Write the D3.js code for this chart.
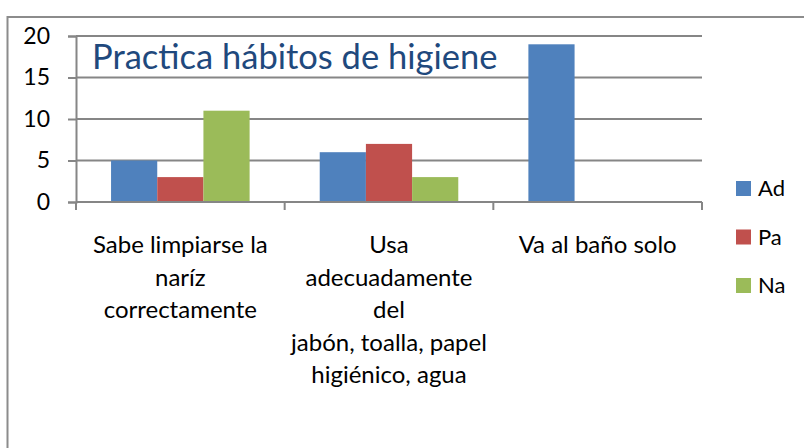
<!DOCTYPE html>
<html>
<head>
<meta charset="utf-8">
<script src="https://cdn.jsdelivr.net/npm/d3@7"></script>
<style>
  body { margin: 0; background: #ffffff; }
  svg { display: block; font-family: "Lato", "Liberation Sans", sans-serif; }
</style>
</head>
<body>
<div id="chart"></div>
<script>
// data
const categories = ["Sabe limpiarse la naríz correctamente", "Usa adecuadamente del jabón, toalla, papel higiénico, agua", "Va al baño solo"];
const categoryLines = [
    ["Sabe limpiarse la", "naríz", "correctamente"],
    ["Usa", "adecuadamente", "del", "jabón, toalla, papel", "higiénico, agua"],
    ["Va al baño solo"]
];
const seriesNames = ["Ad", "Pa", "Na"];
const adValues = [5, 6, 19];
const paValues = [3, 7, 0];
const naValues = [11, 3, 0];
const yTicks = [0, 5, 10, 15, 20];
const titleText = "Practica hábitos de higiene";

const seriesValues = [adValues, paValues, naValues];
const colors = ["#4f81bd", "#c0504d", "#9bbb59"];

// layout
const width = 804, height = 448;
const plot = { left: 76, right: 702, top: 36, bottom: 202 };
const gridColor = "#868686";

const svg = d3.select("#chart").append("svg")
    .attr("width", width)
    .attr("height", height);

// outer frame (clipped by window at right / bottom)
svg.append("path")
    .attr("d", `M7.5,${height + 2}V17H${width + 2}`)
    .attr("fill", "none")
    .attr("stroke", "#8c8c8c")
    .attr("stroke-width", 2);

const x0 = d3.scaleBand()
    .domain(categories)
    .range([plot.left, plot.right]);

const gap = x0.bandwidth() * 0.168;
const x1 = d3.scaleBand()
    .domain(seriesNames)
    .range([gap, x0.bandwidth() - gap]);

const y = d3.scaleLinear()
    .domain([0, 20])
    .range([plot.bottom, plot.top]);

// gridlines + y axis
const yAxis = svg.append("g")
    .attr("transform", `translate(${plot.left},0)`)
    .call(d3.axisLeft(y).tickValues(yTicks).tickSize(8).tickPadding(18));
yAxis.select(".domain").attr("stroke", gridColor).attr("stroke-width", 2);
yAxis.selectAll(".tick line").attr("stroke", gridColor).attr("stroke-width", 2);
yAxis.selectAll(".tick text")
    .attr("font-size", 23)
    .attr("fill", "#000")
    .attr("font-family", "Lato, sans-serif");

svg.append("g")
    .selectAll("line")
    .data(yTicks.filter(d => d > 0))
    .join("line")
    .attr("x1", plot.left)
    .attr("x2", plot.right)
    .attr("y1", d => y(d))
    .attr("y2", d => y(d))
    .attr("stroke", gridColor)
    .attr("stroke-width", 2);

// title
svg.append("text")
    .attr("x", 92)
    .attr("y", 69)
    .attr("fill", "#1f497d")
    .attr("font-size", 34.5)
    .text(titleText);

// bars
const groups = svg.append("g")
    .selectAll("g")
    .data(categories)
    .join("g")
    .attr("transform", d => `translate(${x0(d)},0)`);

groups.selectAll("rect")
    .data((d, i) => seriesNames.map((s, j) => ({ series: s, value: seriesValues[j][i], color: colors[j] })))
    .join("rect")
    .attr("x", d => x1(d.series))
    .attr("width", x1.bandwidth())
    .attr("y", d => y(d.value))
    .attr("height", d => plot.bottom - y(d.value))
    .attr("fill", d => d.color);

// x axis
const xAxis = svg.append("g")
    .attr("transform", `translate(0,${plot.bottom})`);
xAxis.append("line")
    .attr("x1", plot.left)
    .attr("x2", plot.right)
    .attr("stroke", gridColor)
    .attr("stroke-width", 2);
xAxis.selectAll(".xtick")
    .data(categories.map(c => x0(c)).concat([plot.right]))
    .join("line")
    .attr("class", "xtick")
    .attr("x1", d => d)
    .attr("x2", d => d)
    .attr("y1", 0)
    .attr("y2", 8)
    .attr("stroke", gridColor)
    .attr("stroke-width", 2);

// category labels
const labels = svg.append("g")
    .selectAll("text")
    .data(categories)
    .join("text")
    .attr("x", d => x0(d) + x0.bandwidth() / 2)
    .attr("y", 253)
    .attr("text-anchor", "middle")
    .attr("font-size", 24)
    .attr("fill", "#000");
labels.selectAll("tspan")
    .data((d, i) => categoryLines[i])
    .join("tspan")
    .attr("x", function () { return d3.select(this.parentNode).attr("x"); })
    .attr("dy", (d, i) => i === 0 ? 0 : 32.5)
    .text(d => d);

// legend
const legend = svg.append("g")
    .selectAll("g")
    .data(seriesNames)
    .join("g")
    .attr("transform", (d, i) => `translate(736,${181 + i * 48.5})`);
legend.append("rect")
    .attr("width", 15)
    .attr("height", 15)
    .attr("fill", (d, i) => colors[i]);
legend.append("text")
    .attr("x", 22)
    .attr("y", 15)
    .attr("font-size", 22)
    .attr("fill", "#000")
    .text(d => d);
</script>
</body>
</html>
